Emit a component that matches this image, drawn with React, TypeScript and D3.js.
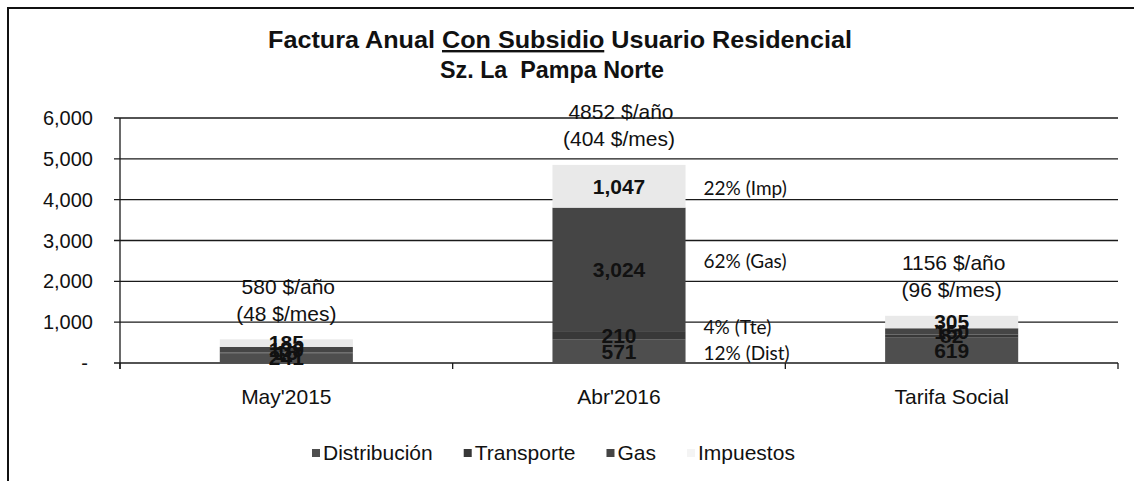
import React, { useEffect, useRef } from 'react';
import * as d3 from 'd3';

// categories and stacked series (values in $ per year)
const categories = ["May'2015", "Abr'2016", 'Tarifa Social'];
const seriesNames = ['Distribución', 'Transporte', 'Gas', 'Impuestos'];
const distribucion = [241, 571, 619];
const transporte = [15, 210, 82];
const gas = [139, 3024, 150];
const impuestos = [185, 1047, 305];

const annualLabels = ['580 $/año', '4852 $/año', '1156 $/año'];
const monthlyLabels = ['(48 $/mes)', '(404 $/mes)', '(96 $/mes)'];
const shareLabels = ['12% (Dist)', '4% (Tte)', '62% (Gas)', '22% (Imp)'];
const yTicks = [0, 1000, 2000, 3000, 4000, 5000, 6000];

const colors = ['#4e4e4e', '#383838', '#454545', '#e9e9e9'];

const App = () => {
  const ref = useRef<SVGSVGElement | null>(null);

  useEffect(() => {
    if (!ref.current) return;
    const width = 1134;
    const height = 481;
    const svg = d3.select(ref.current);
    svg.selectAll('*').remove();
    svg.attr('width', width).attr('height', height);

    const arial = '"Liberation Sans", Arial, sans-serif';
    const narrow = '"Liberation Sans Narrow", "Liberation Sans", Arial, sans-serif';

    // chart frame
    svg.append('path')
      .attr('d', `M8,${height + 2} L8,8 L${width + 2},8`)
      .attr('fill', 'none')
      .attr('stroke', '#111')
      .attr('stroke-width', 2);

    // title
    const title = svg.append('text')
      .attr('x', 560)
      .attr('y', 48)
      .attr('text-anchor', 'middle')
      .style('font-family', narrow)
      .style('font-weight', 'bold')
      .style('font-size', '24px')
      .attr('fill', '#111')
      .attr('textLength', 584)
      .attr('lengthAdjust', 'spacingAndGlyphs');
    title.append('tspan').text('Factura Anual ');
    title.append('tspan').style('text-decoration', 'underline').text('Con Subsidio');
    title.append('tspan').text(' Usuario Residencial');

    svg.append('text')
      .attr('x', 552)
      .attr('y', 78)
      .attr('text-anchor', 'middle')
      .style('font-family', narrow)
      .style('font-weight', 'bold')
      .style('font-size', '24px')
      .attr('fill', '#111')
      .attr('textLength', 224)
      .attr('lengthAdjust', 'spacingAndGlyphs')
      .style('white-space', 'pre')
      .text('Sz. La  Pampa Norte');

    // scales
    const x = d3.scaleBand()
      .domain(categories)
      .range([120, 1118])
      .paddingInner(0.6)
      .paddingOuter(0.3);
    const y = d3.scaleLinear().domain([0, 6000]).range([363, 118]);

    // gridlines
    svg.append('g')
      .selectAll('line')
      .data(yTicks)
      .join('line')
      .attr('x1', 114)
      .attr('x2', 1118)
      .attr('y1', d => y(d))
      .attr('y2', d => y(d))
      .attr('stroke', '#1a1a1a')
      .attr('stroke-width', 1.3);

    // y axis line
    svg.append('line')
      .attr('x1', 120).attr('x2', 120)
      .attr('y1', y(6000)).attr('y2', y(0) + 6)
      .attr('stroke', '#1a1a1a')
      .attr('stroke-width', 1.3);

    // category ticks on x axis
    const bounds = [120, ...categories.map(c => (x(c) as number) + x.bandwidth() / 2 + x.step() / 2)];
    svg.append('g')
      .selectAll('line')
      .data(bounds)
      .join('line')
      .attr('x1', d => d).attr('x2', d => d)
      .attr('y1', y(0)).attr('y2', y(0) + 6)
      .attr('stroke', '#1a1a1a')
      .attr('stroke-width', 1.3);

    // y tick labels
    svg.append('g')
      .selectAll('text')
      .data(yTicks)
      .join('text')
      .attr('x', d => (d === 0 ? 88 : 93))
      .attr('y', d => y(d))
      .attr('dy', '0.35em')
      .attr('text-anchor', 'end')
      .style('font-family', arial)
      .style('font-size', '20px')
      .attr('fill', '#111')
      .text(d => (d === 0 ? '-' : d3.format(',')(d)));

    // category labels
    svg.append('g')
      .selectAll('text')
      .data(categories)
      .join('text')
      .attr('x', d => (x(d) as number) + x.bandwidth() / 2)
      .attr('y', 397)
      .attr('dy', '0.35em')
      .attr('text-anchor', 'middle')
      .style('font-family', arial)
      .style('font-size', '21px')
      .attr('fill', '#111')
      .text(d => d);

    // stacked bars
    const rows = categories.map((c, i) => ({
      cat: c,
      'Distribución': distribucion[i],
      'Transporte': transporte[i],
      'Gas': gas[i],
      'Impuestos': impuestos[i],
    }));
    const stacked = d3.stack<any>().keys(seriesNames)(rows);

    stacked.forEach((layer, si) => {
      svg.append('g')
        .selectAll('rect')
        .data(layer)
        .join('rect')
        .attr('x', d => x(d.data.cat) as number)
        .attr('width', x.bandwidth())
        .attr('y', d => y(d[1]))
        .attr('height', d => y(d[0]) - y(d[1]))
        .attr('fill', colors[si]);
    });

    // segment value labels
    stacked.forEach(layer => {
      svg.append('g')
        .selectAll('text')
        .data(layer)
        .join('text')
        .attr('x', d => (x(d.data.cat) as number) + x.bandwidth() / 2)
        .attr('y', d => y((d[0] + d[1]) / 2))
        .attr('dy', '0.35em')
        .attr('text-anchor', 'middle')
        .style('font-family', arial)
        .style('font-weight', 'bold')
        .style('font-size', '21px')
        .attr('fill', '#111')
        .text(d => d3.format(',')(d[1] - d[0]));
    });

    // totals above bars
    const totals = categories.map((_, i) => distribucion[i] + transporte[i] + gas[i] + impuestos[i]);
    categories.forEach((c, i) => {
      const cx = (x(c) as number) + x.bandwidth() / 2;
      const top = y(totals[i]);
      svg.append('text')
        .attr('x', cx + 2)
        .attr('y', top - 53)
        .attr('dy', '0.35em')
        .attr('text-anchor', 'middle')
        .style('font-family', arial)
        .style('font-size', '21px')
        .attr('fill', '#111')
        .text(annualLabels[i]);
      svg.append('text')
        .attr('x', cx)
        .attr('y', top - 26)
        .attr('dy', '0.35em')
        .attr('text-anchor', 'middle')
        .style('font-family', arial)
        .style('font-size', '21px')
        .attr('fill', '#111')
        .text(monthlyLabels[i]);
    });

    // share annotations next to the middle bar
    const mid = stacked.map(layer => layer[1]);
    const shareY = [353, 327, y((mid[2][0] + mid[2][1]) / 2) - 8, y((mid[3][0] + mid[3][1]) / 2) + 2];
    svg.append('g')
      .selectAll('text')
      .data(shareLabels)
      .join('text')
      .attr('x', (x(categories[1]) as number) + x.bandwidth() + 18)
      .attr('y', (_, i) => shareY[i])
      .attr('dy', '0.35em')
      .style('font-family', 'Lato, "Open Sans", sans-serif')
      .style('font-size', '19px')
      .attr('fill', '#111')
      .text(d => d);

    // legend
    const legend = svg.append('g').attr('transform', 'translate(312, 453)');
    let lx = 0;
    seriesNames.forEach((name, i) => {
      const g = legend.append('g').attr('transform', `translate(${lx}, 0)`);
      g.append('rect')
        .attr('x', 0)
        .attr('y', -4)
        .attr('width', 8)
        .attr('height', 8)
        .attr('fill', i === 3 ? '#f4f4f4' : colors[i]);
      const t = g.append('text')
        .attr('x', 11)
        .attr('y', 0)
        .attr('dy', '0.35em')
        .style('font-family', arial)
        .style('font-size', '21px')
        .attr('fill', '#111')
        .text(name);
      const w = (t.node() as SVGTextElement).getComputedTextLength();
      lx += 11 + w + 31;
    });
  }, []);

  return (
    <svg
      ref={ref}
      style={{ position: 'absolute', left: 0, top: 0, background: '#fff' }}
    />
  );
};

export default App;
